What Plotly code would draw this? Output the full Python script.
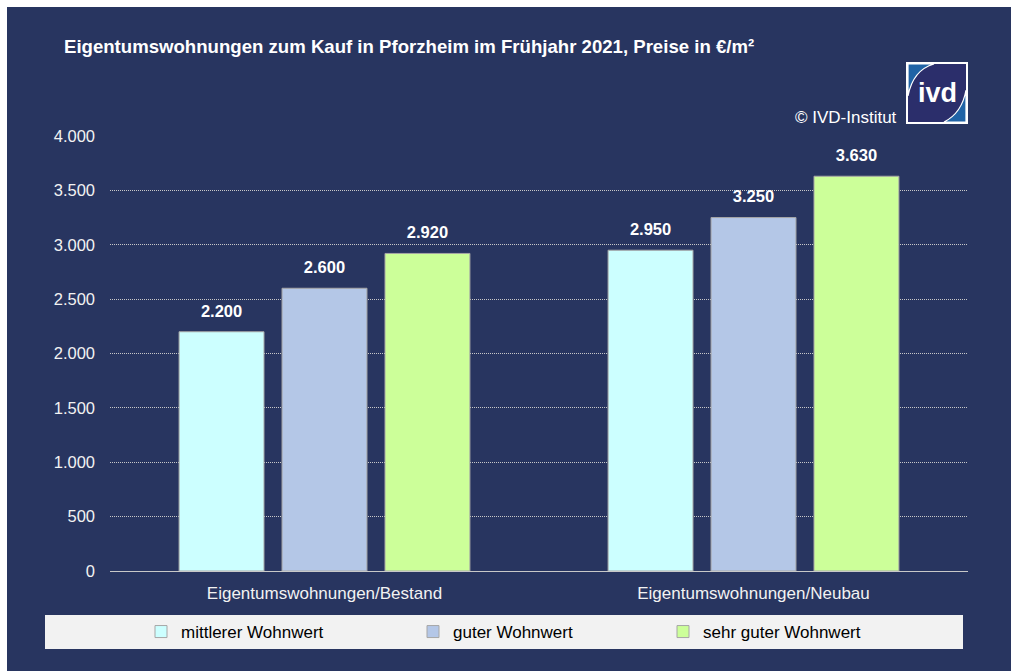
import plotly.graph_objects as go

# ---------------- data ----------------
categories = ["Eigentumswohnungen/Bestand", "Eigentumswohnungen/Neubau"]
series_names = ["mittlerer Wohnwert", "guter Wohnwert", "sehr guter Wohnwert"]
mittlerer = [2200, 2950]
guter = [2600, 3250]
sehr_guter = [2920, 3630]
y_ticks = [0, 500, 1000, 1500, 2000, 2500, 3000, 3500, 4000]
title_text = "Eigentumswohnungen zum Kauf in Pforzheim im Frühjahr 2021, Preise in €/m²"
source_text = "© IVD-Institut"

series_values = [mittlerer, guter, sehr_guter]
colors = ["#CCFFFF", "#B4C7E7", "#CCFF99"]

# ---------------- layout geometry ----------------
W, H = 1011, 671
L, R, T, B = 110, 43, 136, 100
pw, ph = W - L - R, H - T - B
NAVY = "#283560"
FONT = "Liberation Sans, Arial, sans-serif"
BARGAP = 0.28


def px(x):
    return (x - L) / pw


def py(y):
    return (H - B - y) / ph


fig = go.Figure()

for i, (name, vals, col) in enumerate(zip(series_names, series_values, colors)):
    fig.add_trace(go.Bar(
        x=categories, y=vals, name=name, offsetgroup=str(i),
        marker=dict(color=col, line=dict(color="#A6A6A6", width=1)),
        legend="legend" if i == 0 else f"legend{i+1}",
        hoverinfo="skip",
    ))
for i, vals in enumerate(series_values):
    fig.add_trace(go.Scatter(
        x=categories, y=vals, offsetgroup=str(i), mode="markers+text",
        text=[f"{v:,}".replace(",", ".") for v in vals],
        textposition="top center",
        textfont=dict(family=FONT, size=16.5, color="white", weight="bold"),
        marker=dict(size=16, opacity=0),
        showlegend=False, hoverinfo="skip", cliponaxis=False,
    ))

shapes = [
    # white strips at top/left
    dict(type="rect", xref="paper", yref="paper", x0=px(0), x1=px(7), y0=py(H), y1=py(0),
         fillcolor="white", line=dict(width=0), layer="above"),
    dict(type="rect", xref="paper", yref="paper", x0=px(0), x1=px(W), y0=py(7), y1=py(0),
         fillcolor="white", line=dict(width=0), layer="above"),
    # legend band
    dict(type="rect", xref="paper", yref="paper", x0=px(45), x1=px(963), y0=py(649), y1=py(615),
         fillcolor="#F2F2F2", line=dict(width=0), layer="below"),
    # logo
    dict(type="rect", xref="paper", yref="paper", x0=px(906), x1=px(968), y0=py(124), y1=py(62),
         fillcolor="white", line=dict(width=0)),
    dict(type="rect", xref="paper", yref="paper", x0=px(908), x1=px(966), y0=py(122), y1=py(64),
         fillcolor="#2B2E6B", line=dict(width=0)),
]


def pathp(points_cmds):
    out = []
    for cmd, pts in points_cmds:
        s = cmd
        s += " ".join(f"{px(a):.5f},{py(b):.5f}" for a, b in pts)
        out.append(s)
    return " ".join(out) + " Z"


shapes.append(dict(type="path", xref="paper", yref="paper",
                   path=pathp([("M", [(908, 64)]), ("L", [(934, 64)]), ("Q", [(913, 70), (908, 96)])]),
                   fillcolor="#1F63A6", line=dict(color="white", width=1.2)))
shapes.append(dict(type="path", xref="paper", yref="paper",
                   path=pathp([("M", [(966, 122)]), ("L", [(944, 122)]), ("Q", [(962, 113), (966, 90)])]),
                   fillcolor="#1F63A6", line=dict(color="white", width=1.2)))

annotations = [
    dict(text=f"<b>{title_text}</b>", xref="paper", yref="paper", x=px(62), y=py(47),
         xanchor="left", yanchor="middle", showarrow=False,
         font=dict(family=FONT, size=18.6, color="white")),
    dict(text=source_text, xref="paper", yref="paper", x=px(899), y=py(118),
         xanchor="right", yanchor="middle", showarrow=False,
         font=dict(family=FONT, size=17, color="white")),
    dict(text="<b>ivd</b>", xref="paper", yref="paper", x=px(937.5), y=py(93),
         xanchor="center", yanchor="middle", showarrow=False,
         font=dict(family=FONT, size=27, color="white")),
]

leg_common = dict(orientation="h", bgcolor="rgba(0,0,0,0)", borderwidth=0,
                  font=dict(family=FONT, size=17, color="#000000"),
                  yanchor="middle", y=py(632), xanchor="left")
leg_text_x = [181, 453, 703]

fig.update_layout(
    width=W, height=H,
    margin=dict(l=L, r=R, t=T, b=B, pad=0),
    paper_bgcolor=NAVY, plot_bgcolor="rgba(0,0,0,0)",
    separators=",.",
    barmode="group", bargap=BARGAP, bargroupgap=0.175,
    scattermode="group", scattergap=BARGAP,
    font=dict(family=FONT, size=16.5, color="#F2F2F2"),
    showlegend=True,
    legend=dict(**leg_common, x=px(leg_text_x[0] - 40)),
    legend2=dict(**leg_common, x=px(leg_text_x[1] - 40)),
    legend3=dict(**leg_common, x=px(leg_text_x[2] - 40)),
    shapes=shapes, annotations=annotations,
    xaxis=dict(showgrid=False, showline=False, zeroline=False, ticks="",
               ticklabelstandoff=10,
               tickfont=dict(family=FONT, size=17, color="#F2F2F2")),
    yaxis=dict(range=[0, 4000], tickvals=y_ticks, tickformat=",d",
               showgrid=True, gridcolor="#C8C8C8", griddash="1px,1px", gridwidth=1,
               zeroline=True, zerolinecolor="#C8C8C8", zerolinewidth=1,
               showline=False, ticks="", ticklabelstandoff=14,
               tickfont=dict(family=FONT, size=16.5, color="#F2F2F2")),
)

fig.write_html("out.html", config={"displayModeBar": False},
               post_script="document.body.style.margin='0';document.body.style.overflow='hidden';")
